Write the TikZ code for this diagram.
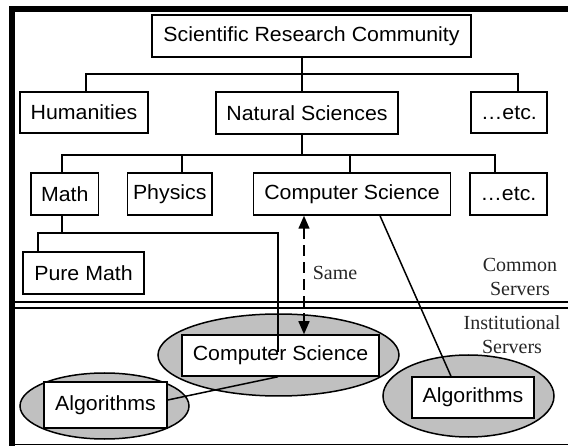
\documentclass[tikz,border=0pt]{standalone}
\usepackage{fontspec}
\setmainfont{Liberation Sans}[FakeStretch=1.04]
\newfontfamily\labserif{Liberation Serif}
\usetikzlibrary{arrows.meta,shapes.geometric}
\definecolor{ellgray}{RGB}{192,192,192}
\begin{document}
\begin{tikzpicture}[x=1pt,y=-1pt,
  line width=1.5pt,
  box/.style={draw=black,fill=white,line width=1.5pt,inner sep=0pt,
    font=\fontsize{20.5}{24}\selectfont},
  grp/.style={draw=black,fill=ellgray,line width=1.5pt,ellipse,inner sep=0pt},
  lab/.style={font=\labserif\fontsize{20}{24}\selectfont,align=center,text=black!85,inner sep=0pt}]
\useasboundingbox (0,0) rectangle (568,446);
% frame
\fill[black] (9,6) rectangle (568,12);
\fill[black] (9,6) rectangle (15,446);
\draw[line width=1.6pt] (9,444.4) -- (568,444.4);
\draw[line width=1.8pt] (15,302) -- (568,302);
\draw[line width=1.8pt] (15,308) -- (568,308);
% ellipses
\node[grp,minimum width=241pt,minimum height=82pt] (emid) at (278.5,355) {};
\node[grp,minimum width=169pt,minimum height=66pt] (eleft) at (104.5,406) {};
\node[grp,minimum width=171pt,minimum height=82pt] (eright) at (468.5,396) {};
% boxes
\node[box,minimum width=319pt,minimum height=42pt] (top) at (311.5,36) {Scientific Research Community};
\node[box,minimum width=128pt,minimum height=41pt] (hum) at (84,112.5) {Humanities};
\node[box,minimum width=182pt,minimum height=42pt] (nat) at (307,113) {Natural Sciences};
\node[box,minimum width=76pt,minimum height=41pt] (etca) at (509,112.5) {\dots etc.};
\node[box,minimum width=67.5pt,minimum height=42pt] (math) at (64.75,194) {Math};
\node[box,minimum width=84.5pt,minimum height=42pt] (phys) at (169.75,194) {Physics};
\node[box,minimum width=197pt,minimum height=42pt] (cs) at (352,194) {Computer Science};
\node[box,minimum width=77pt,minimum height=42pt] (etcb) at (508.5,194) {\dots etc.};
\node[box,minimum width=121pt,minimum height=42pt] (pure) at (83.5,273) {Pure Math};
\node[box,minimum width=197pt,minimum height=41pt] (cs2) at (280.5,355.5) {Computer Science};
\node[box,minimum width=123pt,minimum height=46pt] (alga) at (105.5,405) {Algorithms};
\node[box,minimum width=122pt,minimum height=41pt] (algb) at (473,397.5) {Algorithms};
% tree connectors
\draw (hum.north -| 86,0) -- (86,74) -- (518,74) -- (etca.north -| 518,0);
\draw (top.south -| 302,0) -- (nat.north -| 302,0);
\draw (math.north -| 62,0) -- (62,155) -- (495,155) -- (etcb.north -| 495,0);
\draw (nat.south -| 302,0) -- (302,155);
\draw (phys.north -| 182,0) -- (182,155);
\draw (cs.north -| 350,0) -- (350,155);
\draw (math.south -| 62,0) -- (62,233);
\draw (pure.north -| 38,0) -- (38,233) -- (278,233) -- (278,352);
% cross links
\draw (cs.south -| 380,0) -- (algb.north -| 451,0);
\draw ([yshift=5pt]alga.east) -- (cs2.south -| 278,0);
\draw[dash pattern=on 11pt off 6pt,{Triangle[length=13pt,width=11pt]}-{Triangle[length=13pt,width=11pt]}]
  (cs.south -| 304,0) -- (cs2.north -| 304,0);
% labels
\node[lab] (same) at (335,273) {Same};
\node[lab] (common) at (520,277) {Common\\Servers};
\node[lab] (inst) at (512,335) {Institutional\\Servers};
\end{tikzpicture}
\end{document}
